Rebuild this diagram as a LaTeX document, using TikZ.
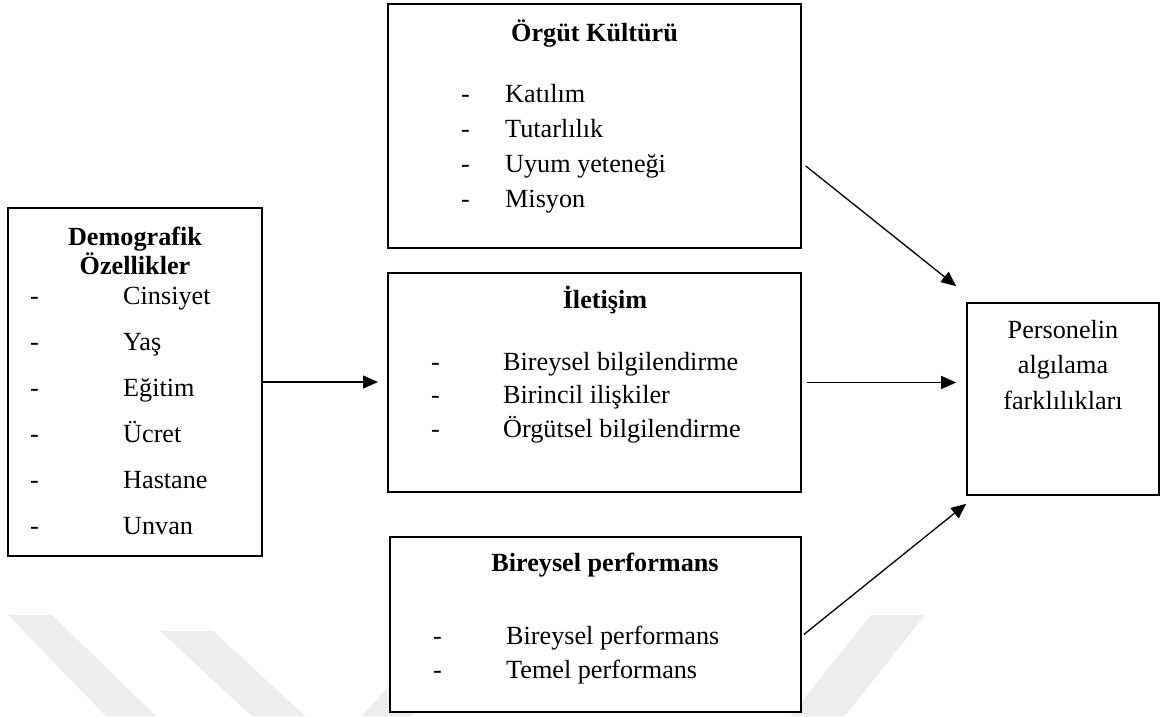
\documentclass[tikz,border=0pt]{standalone}
\usepackage{fontspec}
\setmainfont{Liberation Serif}
\usetikzlibrary{arrows.meta,calc}
\tikzset{
  box/.style={draw=black, line width=1.6pt, fill=white, rectangle, inner sep=0pt},
  txt/.style={inner sep=0pt, anchor=base west, font=\fontsize{26.2}{30}\selectfont},
  ttl/.style={inner sep=0pt, anchor=base, font=\fontsize{26.2}{30}\selectfont\bfseries},
  ctr/.style={inner sep=0pt, anchor=base, font=\fontsize{26.2}{30}\selectfont},
  link/.style={line width=1.3pt, -{Triangle[length=15pt,width=13pt]}},
  stripe/.style={fill=black!7, draw=none}
}
\begin{document}
\begin{tikzpicture}[x=1pt,y=-1pt]
\useasboundingbox (0,0) rectangle (1164,716);

% faint background stripes
\fill[stripe] (8,615) -- (52,615) -- (156,716) -- (106,716) -- cycle;
\fill[stripe] (160,631) -- (213,631) -- (305,716) -- (252,716) -- cycle;
\fill[stripe] (362,716) -- (412,716) -- (480,640) -- (430,640) -- cycle;
\fill[stripe] (871,615) -- (925,615) -- (845,716) -- (790,716) -- cycle;

% boxes
\node[box, minimum width=254pt, minimum height=348pt] (demo) at (135,382) {};
\node[box, minimum width=413pt, minimum height=244pt] (kultur) at (594.5,126) {};
\node[box, minimum width=413pt, minimum height=219pt] (iletisim) at (594.5,382.5) {};
\node[box, minimum width=411pt, minimum height=175pt] (perf) at (595.5,624.5) {};
\node[box, minimum width=192pt, minimum height=192pt] (algi) at (1063,399) {};

% Demografik Özellikler
\node[ttl] (demoT1) at (135,245) {Demografik};
\node[ttl] (demoT2) at (135,274) {Özellikler};
\foreach \y/\t [count=\i] in {304/Cinsiyet,350/Yaş,396/Eğitim,442/Ücret,488/Hastane,534/Unvan}{
  \node[txt] (demoD\i) at (30,\y) {-};
  \node[txt] (demoI\i) at (123,\y) {\t};
}

% Örgüt Kültürü
\node[ttl] (kulturT) at (594.5,41) {Örgüt Kültürü};
\foreach \y/\t [count=\i] in {102/Katılım,137/Tutarlılık,172/Uyum yeteneği,207/Misyon}{
  \node[txt] (kulturD\i) at (461,\y) {-};
  \node[txt] (kulturI\i) at (505,\y) {\t};
}

% İletişim
\node[ttl] (iletisimT) at (605,308) {İletişim};
\foreach \y/\t [count=\i] in {370/Bireysel bilgilendirme,403.5/Birincil ilişkiler,437/Örgütsel bilgilendirme}{
  \node[txt] (iletisimD\i) at (431,\y) {-};
  \node[txt] (iletisimI\i) at (503,\y) {\t};
}

% Bireysel performans
\node[ttl] (perfT) at (605,571) {Bireysel performans};
\foreach \y/\t [count=\i] in {644/Bireysel performans,678/Temel performans}{
  \node[txt] (perfD\i) at (433,\y) {-};
  \node[txt] (perfI\i) at (506,\y) {\t};
}

% Personelin algılama farklılıkları
\node[ctr] (algi1) at (1063,338) {Personelin};
\node[ctr] (algi2) at (1063,373) {algılama};
\node[ctr] (algi3) at (1063,409) {farklılıkları};

% connectors
\coordinate (demoTip) at (378,382);
\draw[link] (demo.east) -- (demoTip);
\draw[link] ([shift={(4,40)}]kultur.east) -- ([shift={(-10,-16)}]algi.north west);
\draw[link] ([xshift=5pt]iletisim.east) -- ($(algi.west |- iletisim.east)+(-10,0)$);
\draw[link] ([shift={(2,10)}]perf.east) -- ([shift={(0,8)}]algi.south west);
\end{tikzpicture}
\end{document}
